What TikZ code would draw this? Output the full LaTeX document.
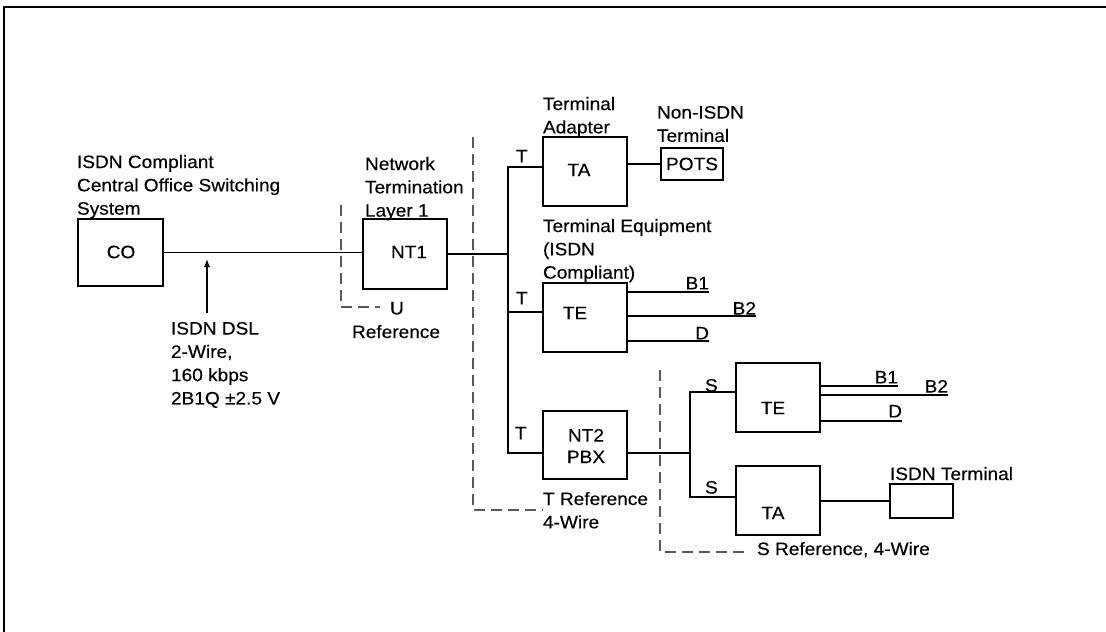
\documentclass[tikz,border=0pt]{standalone}
\usepackage{fontspec}
\setmainfont{Liberation Sans}[FakeStretch=1.06,FakeBold=0.3]
\usetikzlibrary{arrows.meta}
\begin{document}
\begin{tikzpicture}[x=1pt,y=-1pt,
  every node/.style={inner sep=0pt, outer sep=0pt, font=\fontsize{18}{23.3}\selectfont},
  box/.style={draw, line width=1.5pt, anchor=north west},
  wire/.style={line width=1.5pt},
  refline/.style={draw=black!65, line width=1.2pt, dash pattern=on 11pt off 6pt},
  lbl/.style={anchor=north west, align=left},
  chan/.style={anchor=north east},
  frameline/.style={line width=2.2pt}]
\useasboundingbox (0,0) rectangle (1106,632);
\draw[frameline] (4,632) -- (4,7) -- (1106,7);

% boxes
\node[box, minimum width=85pt, minimum height=67pt] (co) at (78,219) {};
\node[box, minimum width=84pt, minimum height=70pt] (nt1) at (363,219) {};
\node[box, minimum width=84pt, minimum height=69pt] (ta1) at (543,137) {};
\node[box, minimum width=62pt, minimum height=32pt] (pots) at (661,148) {};
\node[box, minimum width=84pt, minimum height=69pt] (te1) at (543,283) {};
\node[box, minimum width=84pt, minimum height=68pt] (nt2) at (543,411) {};
\node[box, minimum width=84pt, minimum height=69pt] (te2) at (736,363) {};
\node[box, minimum width=84pt, minimum height=69pt] (ta2) at (736,466) {};
\node[box, minimum width=63pt, minimum height=34pt] (isdnt) at (890,484) {};

% box texts
\node (tco) at (121,252) {CO};
\node (tnt1) at (409,252) {NT1};
\node (tta1) at (579,170) {TA};
\node (tpots) at (pots.center) {POTS};
\node (tte1) at (575,313) {TE};
\node[anchor=north, align=center, font=\fontsize{18}{21.5}\selectfont] (tnt2) at (586,429) {NT2\\PBX};
\node (tte2) at (773,408) {TE};
\node (tta2) at (773,513) {TA};

% labels
\node[lbl] (lco) at (77,155) {ISDN Compliant\\Central Office Switching\\System};
\node[lbl] (ldsl) at (171,322) {ISDN DSL\\2-Wire,\\160 kbps\\2B1Q ±2.5 V};
\node[lbl] (lnt1) at (365,157) {Network\\Termination\\Layer 1};
\node[lbl] (lu) at (390,302) {U};
\node[lbl] (lref) at (352,325) {Reference};
\node[lbl] (lta1) at (543,97) {Terminal\\Adapter};
\node[lbl] (lpots) at (657,106) {Non-ISDN\\Terminal};
\node[lbl] (lte1) at (543,219) {Terminal Equipment\\(ISDN\\Compliant)};
\node[lbl] (lt1) at (516,150) {T};
\node[lbl] (lt2) at (516,292) {T};
\node[lbl] (lt3) at (515,427) {T};
\node[lbl] (ltref) at (543,492) {T Reference\\4-Wire};
\node[lbl] (ls1) at (705,379) {S};
\node[lbl] (ls2) at (705,481) {S};
\node[lbl] (lsref) at (757,542) {S Reference, 4-Wire};
\node[lbl] (lisdn) at (890,467) {ISDN Terminal};

% channel labels
\node[chan] (b1a) at (709,277) {B1};
\node[chan] (b2a) at (756,302) {B2};
\node[chan] (da) at (709,327) {D};
\node[chan] (b1b) at (898,371) {B1};
\node[chan] (b2b) at (948,380) {B2};
\node[chan] (db) at (902,405) {D};

% coordinates
\coordinate (bustop) at (508,167);
\coordinate (busmid) at (508,312);
\coordinate (busbot) at (508,453);
\coordinate (sbus) at (690,453);
\coordinate (stop) at (690,392);
\coordinate (sbot) at (690,497);
\coordinate (arrbot) at (207,313);
\coordinate (arrtip) at (207,259);
\coordinate (c1) at (709,292);
\coordinate (c2) at (756,316);
\coordinate (c3) at (709,341);
\coordinate (c4) at (898,386);
\coordinate (c5) at (948,395);
\coordinate (c6) at (902,421);
\coordinate (u1) at (341,205);
\coordinate (u2) at (341,307);
\coordinate (u3) at (380,307);
\coordinate (t1) at (473,137);
\coordinate (t2) at (473,510);
\coordinate (t3) at (543,510);
\coordinate (s1) at (660,370);
\coordinate (s2) at (660,552);
\coordinate (s3) at (747,552);

% connectors
\draw[wire] (co.east) -- (co.east -| nt1.west);
\draw[line width=1.2pt, -{Latex[length=8pt,width=6pt]}] (arrbot) -- (arrtip);
\draw[wire] (nt1.east) -- (nt1.east -| bustop);
\draw[wire] (bustop -| ta1.west) -- (bustop) -- (busbot) -- (busbot -| nt2.west);
\draw[wire] (busmid) -- (busmid -| te1.west);
\draw[wire] (ta1.east |- pots.west) -- (pots.west);
\draw[wire] (c1 -| te1.east) -- (c1);
\draw[wire] (c2 -| te1.east) -- (c2);
\draw[wire] (c3 -| te1.east) -- (c3);
\draw[wire] (sbus -| nt2.east) -- (sbus);
\draw[wire] (stop -| te2.west) -- (stop) -- (sbot) -- (sbot -| ta2.west);
\draw[wire] (c4 -| te2.east) -- (c4);
\draw[wire] (c5 -| te2.east) -- (c5);
\draw[wire] (c6 -| te2.east) -- (c6);
\draw[wire] (ta2.east |- isdnt.west) -- (isdnt.west);

% reference lines
\draw[refline] (u1) -- (u2) -- (u3);
\draw[refline] (t1) -- (t2) -- (t3);
\draw[refline] (s1) -- (s2) -- (s3);
\end{tikzpicture}
\end{document}
